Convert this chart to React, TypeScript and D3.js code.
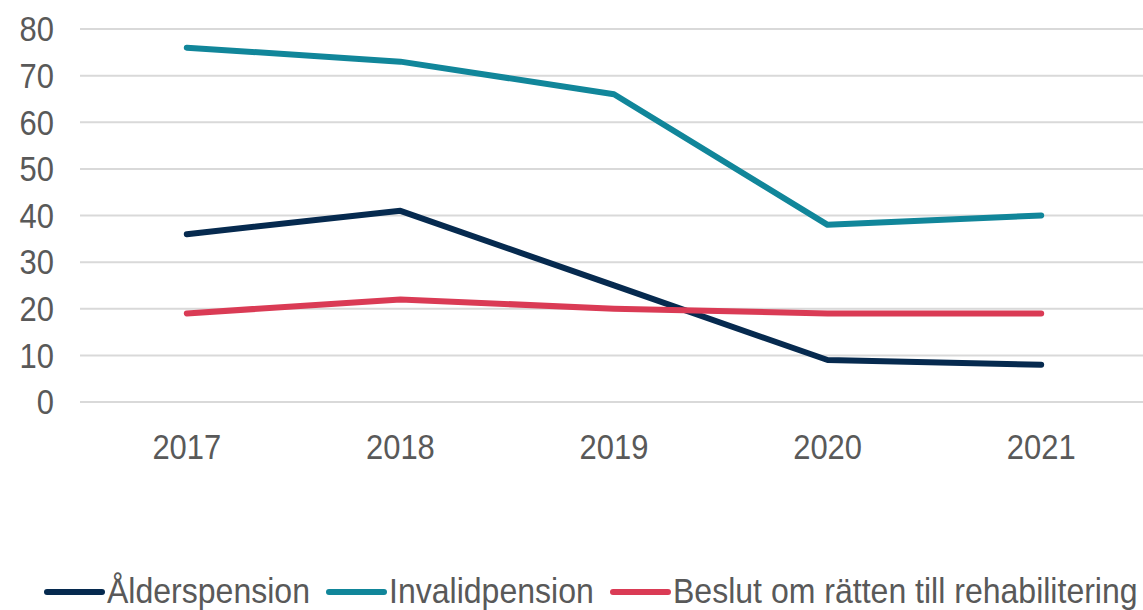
import React from "react";
import * as d3 from "d3";

// values
const years = ["2017", "2018", "2019", "2020", "2021"];
const alderspension = [36, 41, 25, 9, 8];
const invalidpension = [76, 73, 66, 38, 40];
const rehabilitering = [19, 22, 20, 19, 19];
const yTicks = [0, 10, 20, 30, 40, 50, 60, 70, 80];

const seriesNames = ["Ålderspension", "Invalidpension", "Beslut om rätten till rehabilitering"];
const seriesColors = ["#062a4f", "#11869a", "#da3b55"];

const W = 1143;
const H = 610;
const FONT = "'Liberation Sans', Arial, sans-serif";
const TEXT = "#595959";
const SQUEEZE = 0.86;
const LEGEND_SQUEEZE = 0.89;

export default function App() {
  const series = [alderspension, invalidpension, rehabilitering];

  const x = d3.scaleBand<string>().domain(years).range([80, 1148]);
  const y = d3.scaleLinear().domain([0, 80]).range([402, 29]);
  const cx = (d: string) => (x(d) ?? 0) + x.bandwidth() / 2;

  const line = d3
    .line<number>()
    .x((_, i) => cx(years[i]))
    .y((v) => y(v));

  // legend layout (symbol start x for each entry)
  const legendX = [47, 329, 613];

  return (
    <div style={{ position: "absolute", left: 0, top: 0 }}>
      <svg width={W} height={H} style={{ display: "block", background: "#fff" }}>
        <g>
          {yTicks.map((t) => (
            <line key={t} x1={80} x2={W} y1={y(t)} y2={y(t)} stroke="#d9d9d9" strokeWidth={2} />
          ))}
        </g>
        <g fontFamily={FONT} fontSize={36} fill={TEXT}>
          {yTicks.map((t) => (
            <text
              key={t}
              textAnchor="end"
              dominantBaseline="central"
              transform={`translate(54,${y(t)}) scale(${SQUEEZE},1)`}
            >
              {t}
            </text>
          ))}
          {years.map((yr) => (
            <text key={yr} textAnchor="middle" transform={`translate(${cx(yr)},459) scale(${SQUEEZE},1)`}>
              {yr}
            </text>
          ))}
        </g>
        <g fill="none" strokeWidth={6} strokeLinecap="round" strokeLinejoin="round">
          {series.map((s, i) => (
            <path key={seriesNames[i]} d={line(s) ?? ""} stroke={seriesColors[i]} />
          ))}
        </g>
        <g fontFamily={FONT} fontSize={36} fill={TEXT}>
          {seriesNames.map((name, i) => (
            <g key={name} transform={`translate(${legendX[i]},0)`}>
              <line x1={0} x2={55} y1={592} y2={592} stroke={seriesColors[i]} strokeWidth={6} strokeLinecap="round" />
              <text transform={`translate(60,603) scale(${LEGEND_SQUEEZE},1)`}>{name}</text>
            </g>
          ))}
        </g>
      </svg>
    </div>
  );
}
